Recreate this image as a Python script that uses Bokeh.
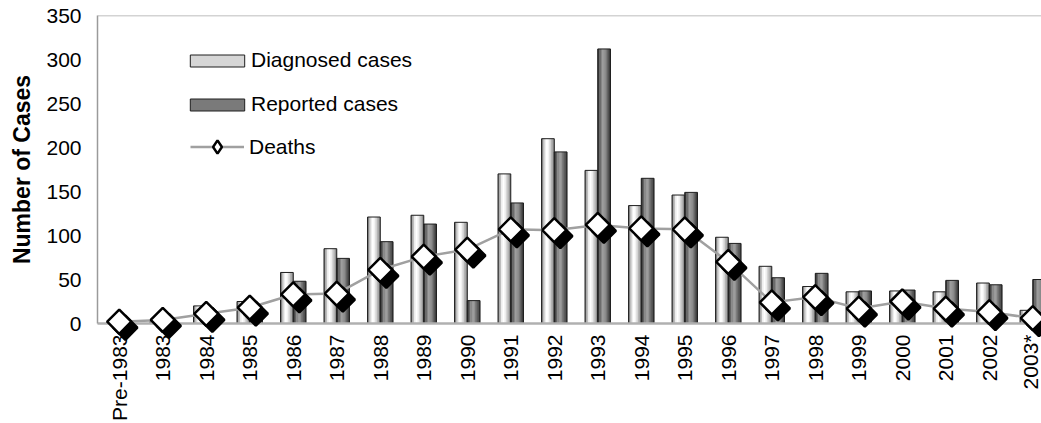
import numpy as np
from bokeh.plotting import figure
from bokeh.models import (ColumnDataSource, FixedTicker, Span, Legend, LegendItem, Range1d)
from bokeh.embed import file_html
from bokeh.resources import INLINE

# ---- data ----
categories = ["Pre-1983", "1983", "1984", "1985", "1986", "1987", "1988", "1989",
              "1990", "1991", "1992", "1993", "1994", "1995", "1996", "1997",
              "1998", "1999", "2000", "2001", "2002", "2003*"]
diagnosed = [2, 4, 20, 25, 58, 85, 121, 123, 115, 170, 210, 174, 134, 146, 98,
             65, 42, 36, 37, 36, 46, 15]
reported = [1, 2, 10, 15, 48, 74, 93, 113, 26, 137, 195, 312, 165, 149, 91,
            52, 57, 37, 38, 49, 44, 50]
deaths = [2, 4, 11, 18, 33, 34, 61, 76, 84, 107, 106, 112, 108, 107, 70,
          24, 30, 17, 25, 17, 13, 6]
y_ticks = [0, 50, 100, 150, 200, 250, 300, 350]

# ---- styles ----
FONT = "Liberation Sans"
diag_shades = ["#858585", "#bdbdbd", "#eeeeee", "#ffffff", "#f2f2f2",
               "#d6d6d6", "#b4b4b4", "#939393"]
rep_shades = ["#3a3a3a", "#636363", "#868686", "#9a9a9a", "#929292",
              "#7a7a7a", "#5c5c5c", "#404040"]
BAR_W = 0.292
DX, DY = 0.14, 6.8   # shadow offset of the death markers

xs = np.arange(len(categories))

p = figure(width=1041, height=423,
           x_range=Range1d(-0.5, 21.2), y_range=Range1d(0, 350),
           output_backend="svg", toolbar_location=None,
           min_border_left=97, min_border_top=15, min_border_bottom=100,
           min_border_right=0)
p.outline_line_color = None
p.xgrid.visible = False
p.ygrid.visible = False
p.background_fill_color = "white"
p.border_fill_color = "white"


def draw_bars(values, offset, shades):
    n = len(shades)
    sw = BAR_W / n
    strips = []
    for k, c in enumerate(shades):
        src = ColumnDataSource(dict(x=xs + offset - BAR_W / 2 + (k + 0.5) * sw,
                                    top=values))
        strips.append(p.vbar(x="x", top="top", bottom=0, width=sw * 1.25,
                             source=src, fill_color=c, line_color=None))
    outline = p.vbar(x=xs + offset, top=values, bottom=0, width=BAR_W,
                     fill_color=None, line_color="#1e1e1e", line_width=1)
    return strips, outline


diag_strips, diag_outline = draw_bars(diagnosed, -BAR_W / 2, diag_shades)
rep_strips, rep_outline = draw_bars(reported, BAR_W / 2, rep_shades)

death_line = p.line(xs, deaths, line_color="#a0a0a0", line_width=2.5)
# small diamond hidden under the big markers; used as the legend glyph
leg_dia = p.scatter(xs, deaths, marker="diamond", size=8, fill_color="white",
                    line_color="black", line_width=2.5)
p.scatter(xs + DX, np.array(deaths) - DY, marker="square", angle=np.pi / 4,
          size=17, fill_color="black", line_color="black", line_width=2.5,
          level="overlay")
p.scatter(xs, deaths, marker="square", angle=np.pi / 4, size=17,
          fill_color="white", line_color="black", line_width=2.5,
          level="overlay")

# top border line
p.add_layout(Span(location=350, dimension="width", line_color="#a8a8a8",
                  line_width=1.5))

# axes
xa = p.xaxis[0]
xa.ticker = FixedTicker(ticks=list(range(len(categories))))
xa.major_label_overrides = {i: c for i, c in enumerate(categories)}
xa.major_label_orientation = np.pi / 2
xa.axis_line_color = "#b0b0b0"
xa.axis_line_width = 2.5
xa.major_tick_line_color = None
xa.minor_tick_line_color = None
xa.major_tick_in = 0
xa.major_tick_out = 0
xa.major_label_standoff = 11
xa.major_label_text_font = FONT
xa.major_label_text_font_size = "21px"
xa.major_label_text_color = "black"

ya = p.yaxis[0]
ya.ticker = FixedTicker(ticks=y_ticks)
ya.axis_line_color = "#9a9a9a"
ya.axis_line_width = 1.5
ya.major_tick_line_color = None
ya.minor_tick_line_color = None
ya.major_tick_in = 0
ya.major_tick_out = 0
ya.major_label_standoff = 16
ya.major_label_text_font = FONT
ya.major_label_text_font_size = "21px"
ya.major_label_text_color = "black"
ya.axis_label = "Number of Cases"
ya.axis_label_text_font = FONT
ya.axis_label_text_font_size = "23px"
ya.axis_label_text_font_style = "bold"
ya.axis_label_text_color = "black"
ya.axis_label_standoff = 8

leg1 = Legend(items=[LegendItem(label="Diagnosed cases",
                                renderers=[diag_strips[5], diag_outline]),
                     LegendItem(label="Reported cases",
                                renderers=[rep_strips[5], rep_outline])],
              location=(86, 207), glyph_width=68, glyph_height=15,
              label_standoff=0, spacing=20, padding=0, margin=0,
              label_height=24, border_line_color=None,
              background_fill_alpha=0, label_text_font=FONT,
              label_text_font_size="21px", label_text_color="black")
leg2 = Legend(items=[LegendItem(label="Deaths", renderers=[death_line, leg_dia])],
              location=(93, 160), glyph_width=54, glyph_height=33,
              label_standoff=5, padding=0, margin=0, label_height=24,
              border_line_color=None, background_fill_alpha=0,
              label_text_font=FONT, label_text_font_size="21px",
              label_text_color="black")
p.add_layout(leg1)
p.add_layout(leg2)

open("out.html", "w").write(file_html(p, INLINE))
